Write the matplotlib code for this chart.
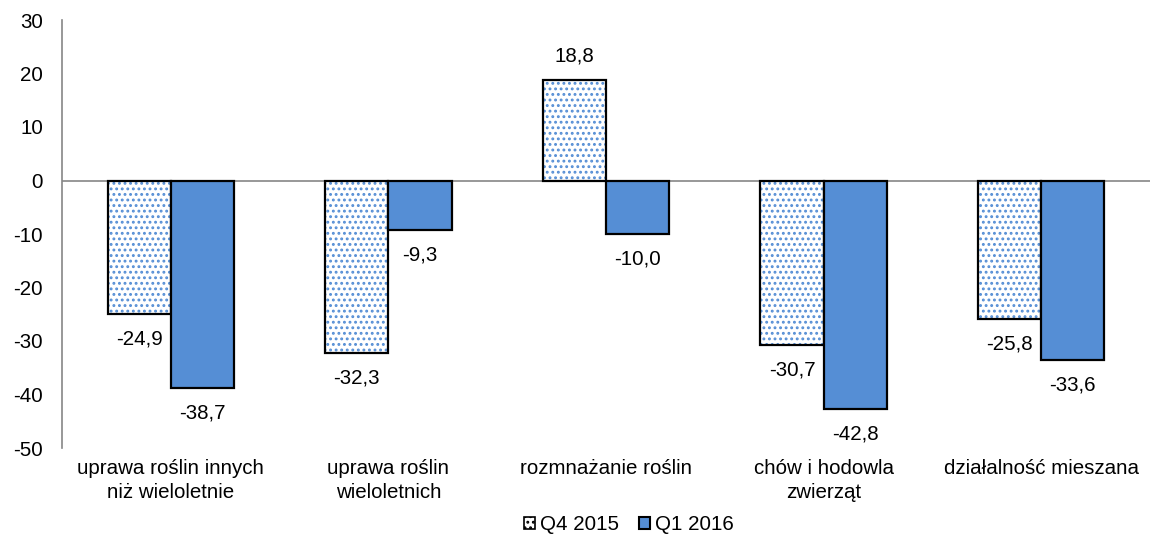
import matplotlib
matplotlib.use("Agg")
import matplotlib.pyplot as plt
import numpy as np
from matplotlib.patches import Patch

categories = ["uprawa roślin innych\nniż wieloletnie", "uprawa roślin\nwieloletnich",
              "rozmnażanie roślin", "chów i hodowla\nzwierząt", "działalność mieszana"]
q4_2015 = [-24.9, -32.3, 18.8, -30.7, -25.8]
q1_2016 = [-38.7, -9.3, -10.0, -42.8, -33.6]
series_names = ["Q4 2015", "Q1 2016"]
yticks = [30, 20, 10, 0, -10, -20, -30, -40, -50]

BLUE = "#558ED5"
FS = 14.8
plt.rcParams['font.family'] = ['Liberation Sans', 'DejaVu Sans']
plt.rcParams['hatch.linewidth'] = 1.3

fig = plt.figure(figsize=(11.64, 5.4), dpi=100)
ax = fig.add_axes([62/1164, 92/540, (1150-62)/1164, (448-20)/540])

x = np.arange(len(categories))
w = 0.29
# Q4: dotted pattern
ax.bar(x - w/2, q4_2015, w, color="white", edgecolor=BLUE, hatch="...", linewidth=0, zorder=2)
ax.bar(x - w/2, q4_2015, w, fill=False, edgecolor="black", linewidth=1.6, zorder=3)
ax.bar(x + w/2, q1_2016, w, color=BLUE, edgecolor="black", linewidth=1.6, zorder=3)

ax.axhline(0, color="#868686", linewidth=1.2, zorder=1)

def fmt(v):
    return f"{v:.1f}".replace(".", ",")

for xs, vals in ((x - w/2, q4_2015), (x + w/2, q1_2016)):
    for xi, v in zip(xs, vals):
        off = 17 if v > 0 else -18
        ax.annotate(fmt(v), (xi, v), xytext=(0, off), textcoords="offset points",
                    ha="center", va="center", fontsize=FS, color="black")

ax.set_ylim(-50, 30)
ax.set_xlim(-0.5, len(categories) - 0.5)
ax.set_yticks(yticks)
ax.set_yticklabels([str(t) for t in yticks], fontsize=FS)
ax.set_xticks(x)
ax.set_xticklabels(categories, fontsize=FS, linespacing=1.32)
ax.tick_params(axis="both", length=0)
ax.tick_params(axis="y", pad=13.5)
ax.tick_params(axis="x", pad=8)
for s in ("top", "right", "bottom"):
    ax.spines[s].set_visible(False)
ax.spines["left"].set_color("#868686")
ax.spines["left"].set_linewidth(1.2)

handles = [Patch(facecolor="white", edgecolor="black", hatch="...", linewidth=1.2),
           Patch(facecolor=BLUE, edgecolor="black", linewidth=1.5)]
fig.legend(handles, series_names, loc="center", bbox_to_anchor=(629/1164, 1 - 525/540),
           ncol=2, frameon=False, fontsize=FS, handlelength=0.5, handleheight=0.5,
           handletextpad=0.25, columnspacing=1.0, borderpad=0.2)

fig.savefig("out.png", dpi=100)
